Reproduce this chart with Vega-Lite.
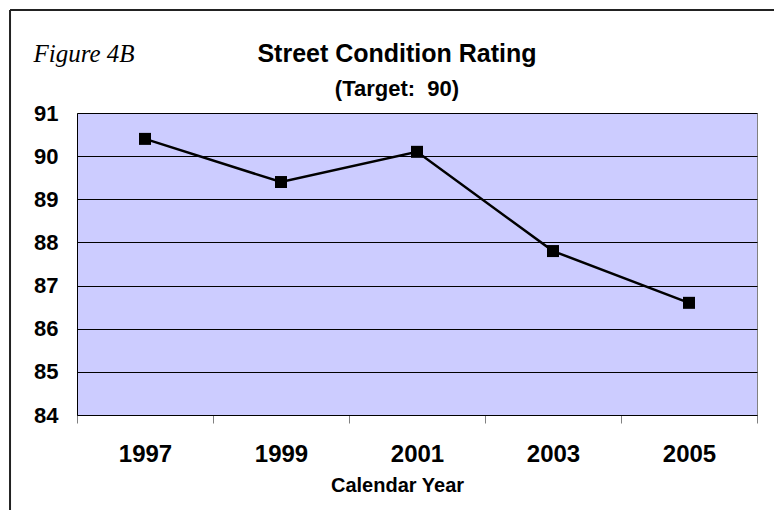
{
  "$schema": "https://vega.github.io/schema/vega-lite/v6.json",
  "width": 680,
  "height": 302,
  "autosize": "none",
  "padding": {"left": 77, "top": 113, "right": 17, "bottom": 95},
  "background": "white",
  "config": {
    "view": {"fill": "#CCCCFF", "stroke": "#808080", "strokeWidth": 1},
    "font": "Liberation Sans"
  },
  "title": {
    "text": "Street Condition Rating",
    "subtitle": "(Target:\u00a0 90)",
    "anchor": "middle",
    "dx": -20,
    "dy": 103,
    "offset": 12,
    "font": "Liberation Sans",
    "fontSize": 25,
    "fontWeight": "bold",
    "color": "black",
    "subtitleFont": "Liberation Sans",
    "subtitleFontSize": 22,
    "subtitleFontWeight": "bold",
    "subtitleColor": "black",
    "subtitlePadding": 12
  },
  "data": {
    "values": [
      {"year": 1997, "rating": 90.4},
      {"year": 1999, "rating": 89.4},
      {"year": 2001, "rating": 90.1},
      {"year": 2003, "rating": 87.8},
      {"year": 2005, "rating": 86.6}
    ]
  },
  "layer": [
    {
      "mark": {
        "type": "line",
        "color": "black",
        "strokeWidth": 2.5,
        "point": {"shape": "square", "size": 144, "filled": true, "color": "black", "opacity": 1}
      },
      "encoding": {
        "x": {
          "field": "year",
          "type": "quantitative",
          "scale": {"domain": [1996, 2006], "nice": false, "zero": false},
          "axis": {
            "values": [1996, 1997, 1998, 1999, 2000, 2001, 2002, 2003, 2004, 2005, 2006],
            "labelExpr": "datum.value % 2 == 1 ? format(datum.value, 'd') : ''",
            "grid": false,
            "domain": true,
            "domainColor": "black",
            "domainWidth": 1,
            "ticks": true,
            "tickSize": 8,
            "tickColor": "#808080",
            "tickWidth": 1,
            "tickOpacity": {"condition": {"test": "datum.value % 2 == 0", "value": 1}, "value": 0},
            "labelFont": "Liberation Sans",
            "labelFontSize": 24,
            "labelFontWeight": "bold",
            "labelColor": "black",
            "labelPadding": 19,
            "labelFlush": false,
            "labelOverlap": false,
            "title": "Calendar Year",
            "titleFont": "Liberation Sans",
            "titleFontSize": 20,
            "titleFontWeight": "bold",
            "titleColor": "black",
            "titlePadding": 9,
            "titleX": 320
          }
        },
        "y": {
          "field": "rating",
          "type": "quantitative",
          "scale": {"domain": [84, 91], "nice": false, "zero": false},
          "axis": {
            "values": [84, 85, 86, 87, 88, 89, 90, 91],
            "grid": true,
            "gridColor": "black",
            "gridOpacity": 1,
            "gridWidth": 1,
            "domain": true,
            "domainColor": "black",
            "ticks": false,
            "labelFont": "Liberation Sans",
            "labelFontSize": 22,
            "labelFontWeight": "bold",
            "labelColor": "black",
            "labelPadding": 19,
            "labelFlush": false,
            "labelOverlap": false,
            "title": "Figure 4B",
            "titleAngle": 0,
            "titleX": -44,
            "titleY": -60,
            "titleAlign": "left",
            "titleBaseline": "middle",
            "titleFont": "Liberation Serif",
            "titleFontStyle": "italic",
            "titleFontWeight": "normal",
            "titleFontSize": 25,
            "titleColor": "black"
          }
        }
      }
    },
    {
      "data": {"values": [{}]},
      "mark": {"type": "rule", "color": "#222222", "strokeWidth": 2, "clip": false},
      "encoding": {
        "x": {"datum": 1995.015, "type": "quantitative"},
        "x2": {"datum": 2006.5},
        "y": {"datum": 93.39, "type": "quantitative"}
      }
    },
    {
      "data": {"values": [{}]},
      "mark": {"type": "rule", "color": "#222222", "strokeWidth": 2, "clip": false},
      "encoding": {
        "x": {"datum": 1995.015, "type": "quantitative"},
        "y": {"datum": 93.39, "type": "quantitative"},
        "y2": {"datum": 81}
      }
    }
  ]
}
